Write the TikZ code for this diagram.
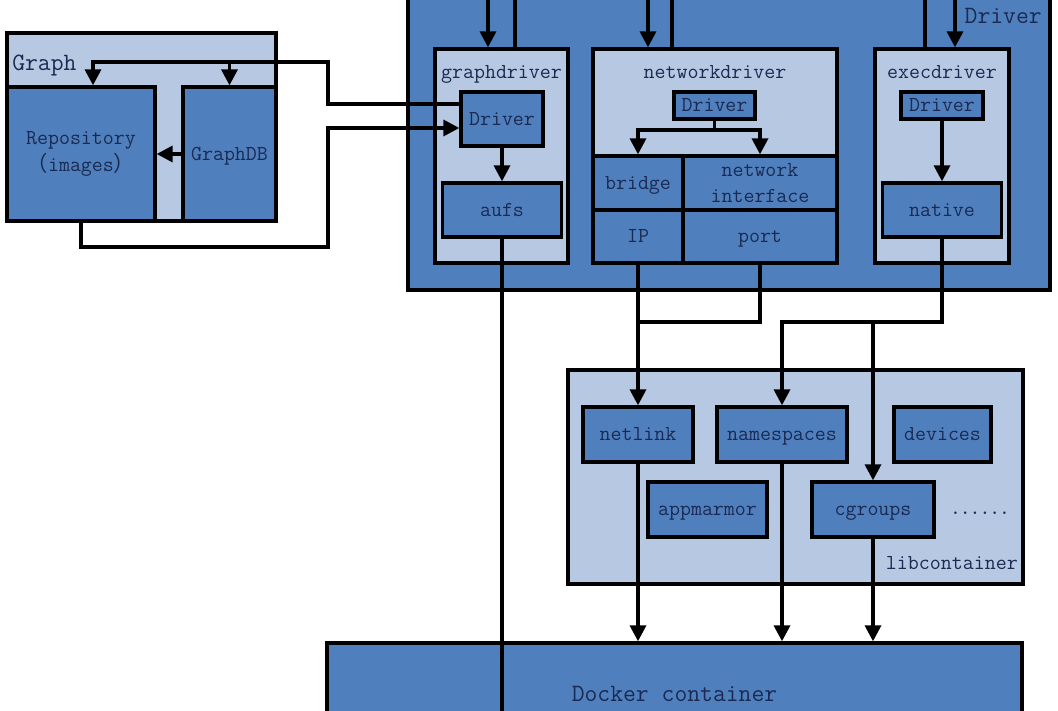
\documentclass[tikz,border=0pt]{standalone}
\usepackage{fontspec}
\newfontfamily\cjk{Noto Sans CJK SC}
\usetikzlibrary{arrows.meta}
\definecolor{dkblue}{RGB}{79,127,188}
\definecolor{ltblue}{RGB}{182,200,226}
\definecolor{txtblue}{RGB}{26,42,82}
\newcommand{\pxu}{0.75pt}
\newcommand{\lblfont}{\ttfamily\fontsize{16}{20}\selectfont}
\newcommand{\bigfont}{\ttfamily\fontsize{18.7}{22}\selectfont}

\begin{document}
\begin{tikzpicture}[x=0.75pt,y=-0.75pt,
  box/.style 2 args={draw=black,line width=2.5pt,inner sep=0pt,
    minimum width=#1*\pxu,minimum height=#2*\pxu,text=txtblue,font=\lblfont,align=center,
    text height=12pt,text depth=3pt},
  two/.style={text height={},text depth={}},
  big/.style={font=\bigfont,text height=13pt,text depth=1pt},
  dk/.style={fill=dkblue},
  lt/.style={fill=ltblue},
  tag/.style={inner sep=0pt,text=txtblue,font=\lblfont,text height=12pt,text depth=3pt},
  wire/.style={line width=2.5pt},
  arr/.style={wire,-{Triangle[length=12pt,width=12pt]}}]
  \fill[white] (0,0) rectangle (1058,711);
  \useasboundingbox (0,0) rectangle (1058,711);

  % Graph
  \node[box={269}{188},lt] (graph) at (141.5,127) {};
  \node[tag,big,anchor=west] (graphlbl) at (12,62) {Graph};
  \node[box={148}{134},dk,two] (repo) at (81,154) {Repository\\{\cjk （}images{\cjk ）}};
  \node[box={93}{134},dk] (gdb) at (229.5,154) {GraphDB};

  % Driver
  \node[box={642}{300},dk] (driver) at (729,140) {};
  \node[tag,big,anchor=east] (drvlbl) at (1042,15) {Driver};

  \node[box={133}{214},lt] (gdbox) at (501.5,156) {};
  \node[tag] (gdlbl) at (501.5,72) {graphdriver};
  \node[box={82}{54},dk] (gdrv) at (502,119) {Driver};
  \node[box={119}{54},dk] (aufs) at (502,210) {aufs};

  \node[box={244}{214},lt] (ndbox) at (715,156) {};
  \node[tag] (ndlbl) at (715,72) {networkdriver};
  \node[box={81}{27},dk] (ndrv) at (714.5,105.5) {Driver};
  \node[box={90}{54},dk] (bridge) at (638,183) {bridge};
  \node[box={154}{54},dk,two] (netif) at (760,183) {network\\interface};
  \node[box={90}{53},dk] (ip) at (638,236.5) {IP};
  \node[box={154}{53},dk] (port) at (760,236.5) {port};

  \node[box={134}{214},lt] (edbox) at (942,156) {};
  \node[tag] (edlbl) at (942,72) {execdriver};
  \node[box={82}{27},dk] (edrv) at (942,105.5) {Driver};
  \node[box={119}{54},dk] (native) at (942,210) {native};

  % libcontainer
  \node[box={455}{214},lt] (lib) at (795.5,477) {};
  \node[tag,anchor=east] (liblbl) at (1018,563) {libcontainer};
  \node[box={110}{55},dk] (netlink) at (638,434.5) {netlink};
  \node[box={130}{55},dk] (nsp) at (782,434.5) {namespaces};
  \node[box={97}{55},dk] (devices) at (942.5,434.5) {devices};
  \node[box={119}{55},dk] (appm) at (707.5,509.5) {appmarmor};
  \node[box={122}{55},dk] (cgroups) at (873,509.5) {cgroups};
  \node[tag,font=\ttfamily\bfseries\fontsize{14}{16}\selectfont] (dots) at (980,508) {......};

  \node[box={695}{100},dk,big] (docker) at (674.5,693) {Docker container};

  % wires
  \foreach \n/\a/\b in {gdbox/488/515, ndbox/648/672, edbox/955/925}{
    \coordinate (dn-\n) at (\a,-10);
    \coordinate (up-\n) at (\b,-10);
    \draw[arr] (dn-\n) -- (\n.north -| dn-\n);
    \draw[wire] (\n.north -| up-\n) -- (up-\n);
  }

  \coordinate (k1) at (328,62);
  \coordinate (k2) at (328,247);
  \draw[arr] ([yshift=11.25pt]gdrv.west) -| (k1) -| ([xshift=9pt]repo.north);
  \draw[arr] (gdb.north |- k1) -- (gdb.north);
  \draw[arr] (repo.south) |- (k2) |- ([yshift=-6.75pt]gdrv.west);
  \draw[arr] (gdb.west) -- (repo.east);

  \draw[arr] (gdrv.south) -- (aufs.north);
  \coordinate (aufsend) at (502,720);
  \draw[wire] (aufs.south) -- (aufsend);

  \coordinate (nsplit) at (714.5,130);
  \draw[wire] (ndrv.south) -- (nsplit);
  \draw[arr] (nsplit) -| (bridge.north);
  \draw[arr] (nsplit) -| (netif.north);
  \draw[arr] (edrv.south) -- (native.north);

  \coordinate (j1) at (638,322);
  \coordinate (j2) at (782,322);
  \draw[arr] (ip.south) -- (netlink.north);
  \draw[wire] (port.south) |- (j1);
  \draw[arr] (native.south) |- (j2) -- (nsp.north);
  \draw[arr] (cgroups.north |- j2) -- (cgroups.north);
  \foreach \b in {netlink, nsp, cgroups}
    \draw[arr] (\b.south) -- (docker.north -| \b.south);
\end{tikzpicture}
\end{document}
